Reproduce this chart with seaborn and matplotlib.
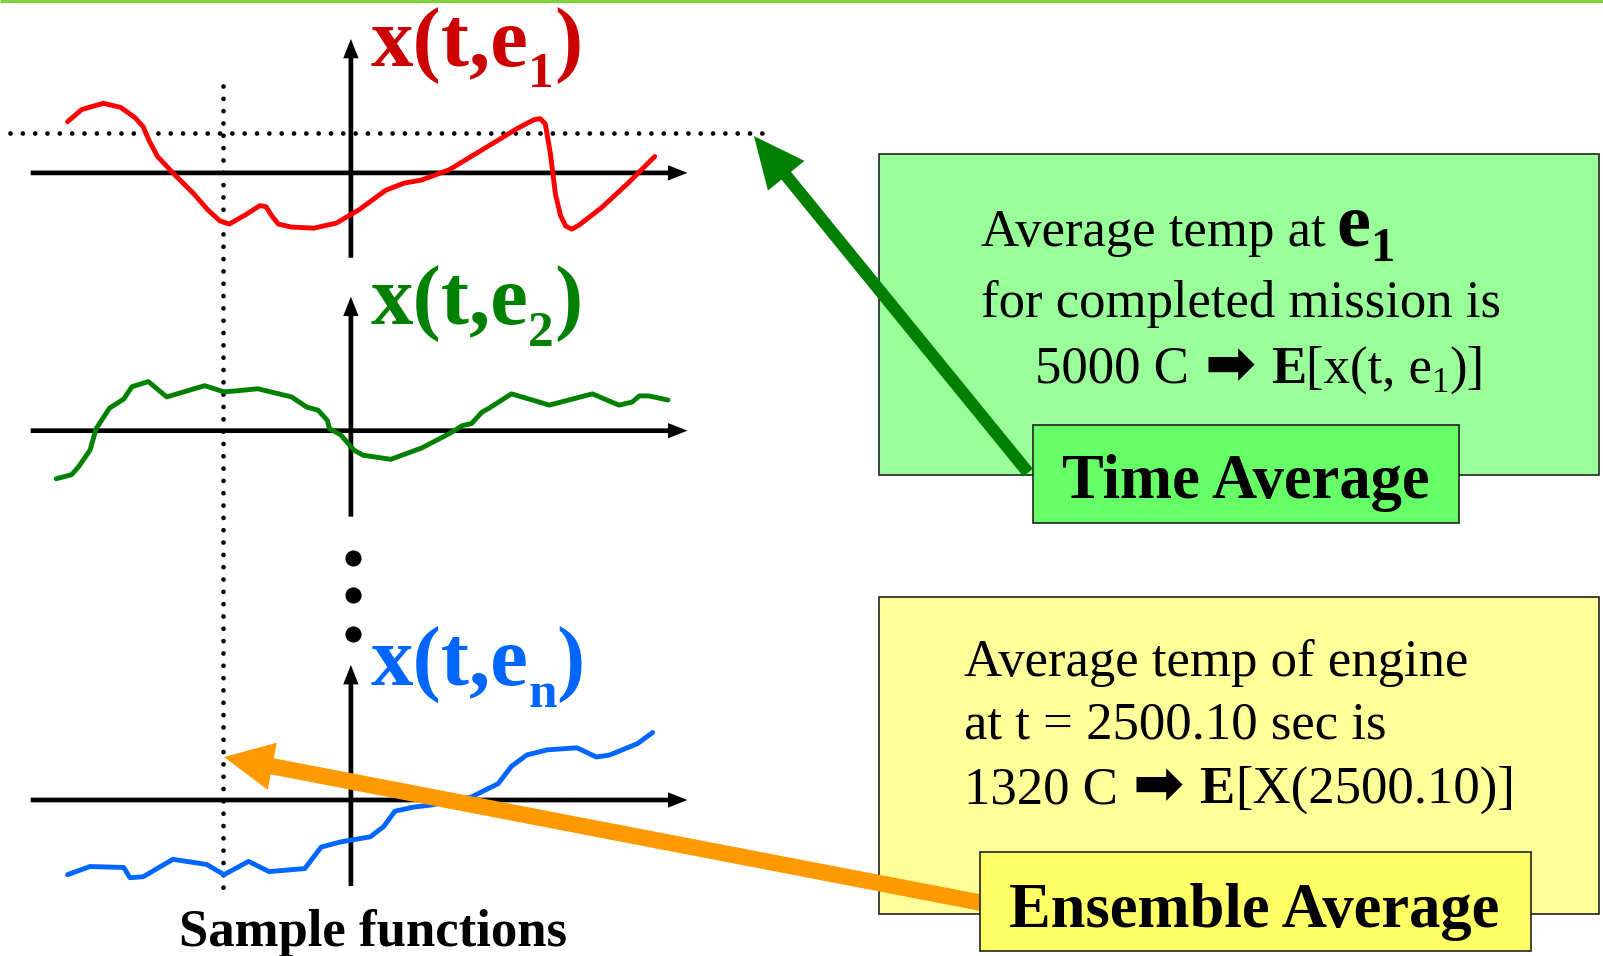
import matplotlib
matplotlib.use("Agg")
import matplotlib.pyplot as plt
import matplotlib.transforms as mtransforms
from matplotlib.patches import Rectangle, FancyArrow
import seaborn as sns

# ---------------- data (sample functions, t relative to vertical axis, value relative to t-axis) -------------
red_t = [-277, -263, -242, -225, -211, -203, -197, -189, -173, -154, -140, -128, -119, -103, -89, -83, -78, -71,
         -58, -36, -14, 8, 34, 52, 69, 96, 139, 162, 179, 185, 190, 195, 200, 205, 210, 216, 223, 245, 271, 297]
red_x = [50, 62, 68, 64, 54, 45, 31, 16, -1, -20, -36, -47, -50, -41, -32, -33, -41, -50,
         -53, -54, -49, -36, -17, -10, -7, 3, 29, 43, 52, 53, 48, 19, -21, -42, -52, -55, -51, -34, -10, 16]

green_t = [-288, -273, -266, -255, -249, -236, -222, -214, -198, -180, -143, -124, -111, -91, -58, -43, -32, -23,
           -21, -10, 3, 12, 39, 69, 96, 109, 118, 128, 135, 157, 194, 236, 262, 275, 282, 291, 310]
green_x = [-47, -43, -35, -19, 2, 22, 31, 43, 48, 33, 44, 38, 39, 41, 33, 23, 20, 10,
           2, -4, -19, -24, -28, -17, -3, 5, 7, 18, 22, 36, 25, 36, 25, 28, 34, 34, 30]

blue_t = [-277, -255, -222, -216, -203, -174, -141, -124, -100, -80, -45, -29, -10, 19, 32, 43, 61, 78,
          118, 144, 157, 172, 192, 221, 240, 253, 280, 295]
blue_x = [-73, -65, -66, -76, -75, -58, -63, -73, -60, -70, -67, -46, -41, -36, -26, -11, -7, -5,
          3, 16, 33, 44, 49, 51, 42, 44, 55, 66]

panel_labels = ["x(t,e", "x(t,e", "x(t,e"]
panel_subs = ["1", "2", "n"]
green_lines = ["Average temp at", "for completed mission is", "5000 C", "[x(t, e"]
yellow_lines = ["Average temp of engine", "at t = 2500.10 sec is", "1320 C", "[X(2500.10)]"]
time_label = "Time Average"
ensemble_label = "Ensemble Average"
footer = "Sample functions"

# ---------------- layout / style -------------
sns.set_theme(style="white")
plt.rcParams["font.family"] = ["Liberation Serif", "DejaVu Sans"]

K = 1.023
W, H = 1603, 956
fig = plt.figure(figsize=(W / 100, H / 100), dpi=100)
ax = fig.add_axes([0, 0, 1, 1])
ax.set_xlim(0, W / K)
ax.set_ylim(H / K, 0)
ax.axis("off")
renderer = fig.canvas.get_renderer()

SERIF = ["Liberation Serif", "DejaVu Sans"]
AX_X = 343
BASES = [169, 421, 782]
VTOPS = [38, 290, 650]
VBOTS = [252, 505, 866]
RED_C, GREEN_C, BLUE_C = "#ff0000", "#008000", "#0066ff"
LABEL_C = ["#cc0000", "#008000", "#0066ff"]

# top rule
ax.plot([0, W / K], [1.2, 1.2], color="#80d040", lw=2.4, solid_capstyle="butt", zorder=5)

# axes with arrows
for b, vt, vb in zip(BASES, VTOPS, VBOTS):
    ax.add_patch(FancyArrow(30, b, 642, 0, width=4.6, head_width=15, head_length=19,
                            length_includes_head=True, color="black", lw=0, zorder=2))
    ax.add_patch(FancyArrow(AX_X, vb, 0, vt - vb, width=4.6, head_width=15, head_length=19,
                            length_includes_head=True, color="black", lw=0, zorder=2))

# dotted guide lines
ax.plot([10, 745], [130, 130], color="black", lw=3.4, dashes=(0.01, 2.6),
        dash_capstyle="round", zorder=1)
ax.plot([218, 218], [84, 876], color="black", lw=3.4, dashes=(0.01, 2.6),
        dash_capstyle="round", zorder=1)

# vertical ellipsis
ax.scatter([345, 345, 345], [545, 582, 620], s=135, color="black", zorder=3, linewidths=0)

# sample functions
for (tt, xx, col, b) in [(red_t, red_x, RED_C, BASES[0]), (green_t, green_x, GREEN_C, BASES[1]),
                         (blue_t, blue_x, BLUE_C, BASES[2])]:
    tr = mtransforms.Affine2D().scale(1, -1).translate(AX_X, b) + ax.transData
    sns.lineplot(x=tt, y=xx, sort=False, estimator=None, color=col, linewidth=3.5, ax=ax,
                 transform=tr, legend=False, zorder=3, solid_joinstyle="round", solid_capstyle="round")


def run_text(x, y, pieces):
    for s, kw in pieces:
        kw = dict(kw)
        gap = kw.pop("gap", 0)
        dy = kw.pop("dy", 0)
        x += gap
        t = ax.text(x, y + dy, s, va="baseline", ha="left", zorder=6, **kw)
        bb = t.get_window_extent(renderer)
        x = ax.transData.inverted().transform((bb.x1, bb.y0))[0]
    return x


# panel labels
label_base = [64, 317, 670]
for lab, sub, col, yb in zip(panel_labels, panel_subs, LABEL_C, label_base):
    big = dict(family=SERIF, fontsize=61, fontweight="bold", color=col)
    small = dict(family=SERIF, fontsize=37, fontweight="bold", color=col, dy=21)
    run_text(362, yb, [(lab, big), (sub, small), (")", big)])

ax.text(365, 925, footer, family=SERIF, fontsize=38, fontweight="bold", ha="center",
        va="baseline", color="black", zorder=6)

# boxes
ax.add_patch(Rectangle((859, 151), 704, 313, facecolor="#99ff99", edgecolor="#222222", lw=1.2, zorder=1))
ax.add_patch(Rectangle((859, 584), 704, 309, facecolor="#ffff99", edgecolor="#222222", lw=1.2, zorder=1))

# arrows
ax.add_patch(FancyArrow(1005, 462, 737 - 1005, 133 - 462, width=12, head_width=46, head_length=50,
                        length_includes_head=True, color="#008000", lw=0, zorder=4))
ax.add_patch(FancyArrow(962, 883, 219 - 962, 740 - 883, width=16, head_width=47, head_length=48,
                        length_includes_head=True, color="#ff9900", lw=0, zorder=4))

ax.add_patch(Rectangle((1010, 415), 416, 96, facecolor="#66ff66", edgecolor="#222222", lw=1.2, zorder=5))
ax.add_patch(Rectangle((958, 833), 539, 97, facecolor="#ffff66", edgecolor="#222222", lw=1.2, zorder=5))

ax.text(1218, 487, time_label, family=SERIF, fontsize=45, fontweight="bold", ha="center",
        va="baseline", color="black", zorder=6)
ax.text(1226, 906, ensemble_label, family=SERIF, fontsize=45, fontweight="bold", ha="center",
        va="baseline", color="black", zorder=6)

REG = dict(family=SERIF, fontsize=38, color="black")
BOLD = dict(family=SERIF, fontsize=38, fontweight="bold", color="black")
ARW = dict(family=["DejaVu Sans"], fontsize=44, fontweight="bold", color="black")

# green box text
run_text(959, 240, [(green_lines[0], REG),
                    ("e", dict(family=SERIF, fontsize=55, fontweight="bold", color="black", gap=10)),
                    ("1", dict(family=SERIF, fontsize=35, fontweight="bold", color="black", dy=15))])
run_text(959, 310, [(green_lines[1], REG)])
run_text(1012, 374, [(green_lines[2], REG), ("\u27a1", dict(ARW, gap=15, dy=1)), ("E", dict(BOLD, gap=15)),
                     (green_lines[3], REG), ("1", dict(REG, fontsize=25, dy=9)), (")]", REG)])

# yellow box text
run_text(942, 661, [(yellow_lines[0], REG)])
run_text(942, 722, [(yellow_lines[1], REG)])
run_text(942, 785, [(yellow_lines[2], REG), ("\u27a1", dict(ARW, gap=15, dy=1)), ("E", dict(BOLD, gap=15)),
                    (yellow_lines[3], REG)])

ax.set_xlim(0, W / K)
ax.set_ylim(H / K, 0)
fig.savefig("out.png", dpi=100, facecolor="white")
